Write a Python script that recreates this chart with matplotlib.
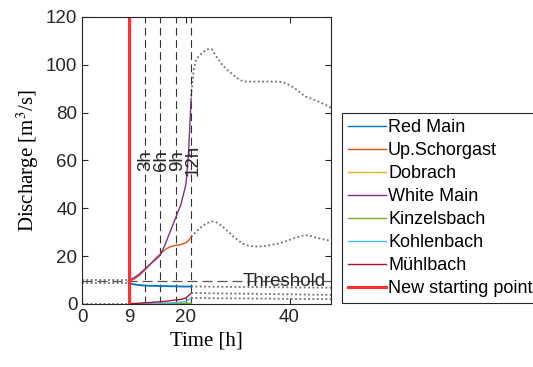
import matplotlib
matplotlib.use("Agg")
import matplotlib.pyplot as plt

plt.rcParams['font.family'] = ['Liberation Sans', 'DejaVu Sans']
plt.rcParams['mathtext.fontset'] = 'stix'

# forecast window (solid coloured lines)
hours = [9, 10, 11, 12, 13, 14, 15, 16, 17, 18, 19, 20, 20.5, 21]
red_main = [8.6, 8.2, 7.9, 7.7, 7.6, 7.6, 7.5, 7.5, 7.4, 7.4, 7.3, 7.3, 7.3, 7.3]
up_schorgast = [9.5, 10.4, 12.0, 14.0, 16.3, 18.8, 20.8, 22.8, 24.0, 24.5, 24.8, 25.6, 26.5, 28.0]
dobrach = [0.2, 0.2, 0.2, 0.2, 0.2, 0.2, 0.2, 0.2, 0.2, 0.3, 0.3, 0.3, 0.3, 0.3]
white_main = [10.0, 11.0, 12.5, 14.5, 16.5, 18.3, 20.3, 25.0, 30.5, 36.0, 41.5, 50.0, 63.0, 86.0]
kinzelsbach = [0.1, 0.1, 0.1, 0.1, 0.1, 0.1, 0.1, 0.1, 0.1, 0.2, 0.2, 0.2, 0.2, 0.2]
kohlenbach = [0.0, 0.05, 0.1, 0.15, 0.2, 0.25, 0.3, 0.4, 0.5, 0.6, 0.8, 1.1, 1.7, 2.5]
muehlbach = [0.1, 0.2, 0.3, 0.5, 0.6, 0.8, 0.9, 1.1, 1.4, 1.7, 1.9, 2.5, 3.5, 4.5]

# observed before the new starting point (dotted grey)
pre_hours = [0, 9]
pre_high = [9.9, 9.9]
pre_mid = [8.8, 8.8]
pre_low = [0.1, 0.1]

# observed after the forecast window (dotted grey)
post_hours = [21, 21.5, 22, 23, 24, 25, 26, 27, 28, 29, 30, 31, 32, 33, 34, 35, 36,
              37, 38, 39, 40, 41, 42, 43, 44, 45, 46, 47, 48]
post_white = [87, 98, 102.5, 104.7, 106.5, 106.5, 103, 100, 97.8, 96, 94.3, 93.1, 93, 93,
              93, 93, 93, 93, 93, 92.5, 91.5, 90.2, 88.5, 86.8, 86, 85.2, 84.2, 83.2, 82]
post_schorgast = [28, 29.2, 30.3, 32.3, 33.8, 34.5, 34, 32.5, 30.5, 28.5, 26.7, 25.2, 24.4,
                  24.1, 24, 24.2, 24.5, 24.9, 25.3, 26, 26.8, 27.6, 28.3, 28.8, 28.5, 27.8,
                  27.3, 26.8, 26.4]
post_flat_hours = [21, 48]
post_red_main = [7.3, 6.8]
post_muehlbach = [4.6, 3.8]
post_kohlenbach = [2.5, 2.0]

lead_times = [12, 15, 18, 21]
lead_labels = ['3h', '6h', '9h', '12h']
start_hour = 9
threshold = 9.7

fig = plt.figure(figsize=(5.33, 3.67), dpi=100)
ax = fig.add_axes([0.1545, 0.1717, 0.4665, 0.782])

dot = dict(color='#707070', lw=1.3, dashes=(1, 1.4))
for y in (pre_high, pre_mid, pre_low):
    ax.plot(pre_hours, y, **dot)
ax.plot(post_hours, post_white, **dot)
ax.plot(post_hours, post_schorgast, **dot)
for y in (post_red_main, post_muehlbach, post_kohlenbach):
    ax.plot(post_flat_hours, y, **dot)

ax.axhline(threshold, color='#555555', lw=0.9, dashes=(8, 4))
ax.text(46.9, threshold - 0.5, 'Threshold', ha='right', va='center', fontsize=13.5,
        color='#262626')

for t, lab in zip(lead_times, lead_labels):
    ax.axvline(t, color='#333333', lw=0.8, dashes=(7, 4))
    ax.text(t + 0.3, 60, lab, rotation=90, ha='center', va='center', fontsize=13.5,
            color='#262626')

ax.plot(hours, red_main, color='#0072BD', lw=1.3, label='Red Main')
ax.plot(hours, up_schorgast, color='#D95319', lw=1.0, label='Up.Schorgast')
ax.plot(hours, dobrach, color='#EDB120', lw=1.0, label='Dobrach')
ax.plot(hours, white_main, color='#7E2F8E', lw=1.0, label='White Main')
ax.plot(hours, kinzelsbach, color='#77AC30', lw=1.0, label='Kinzelsbach')
ax.plot(hours, kohlenbach, color='#4DBEEE', lw=1.0, label='Kohlenbach')
ax.plot(hours, muehlbach, color='#A2142F', lw=1.0, label='Mühlbach')
ax.axvline(start_hour, color='#FF3030', lw=2.2, label='New starting point')

ax.set_xlim(0, 48)
ax.set_ylim(0, 120)
ax.set_xticks([0, 9, 20, 40])
ax.set_yticks([0, 20, 40, 60, 80, 100, 120])
ax.tick_params(direction='in', top=True, right=True, labelsize=13.5,
               colors='#262626', length=4)
for s in ax.spines.values():
    s.set_color('#262626')
    s.set_linewidth(0.8)

ax.set_xlabel('Time [h]', family='Liberation Serif', fontsize=15, labelpad=4)
ax.set_ylabel('Discharge [m$^3$/s]', family='Liberation Serif', fontsize=15, labelpad=4)

leg = fig.legend(loc='lower left', bbox_to_anchor=(0.6417, 0.174), fontsize=13,
                 frameon=True, fancybox=False, edgecolor='#262626', framealpha=1,
                 handlelength=2.1, handletextpad=0.1, labelspacing=0.33,
                 borderpad=0.35, borderaxespad=0)
leg.get_frame().set_linewidth(0.8)
for line in leg.get_lines()[:-1]:
    line.set_linewidth(1.0)

fig.savefig('out.png', dpi=100)
